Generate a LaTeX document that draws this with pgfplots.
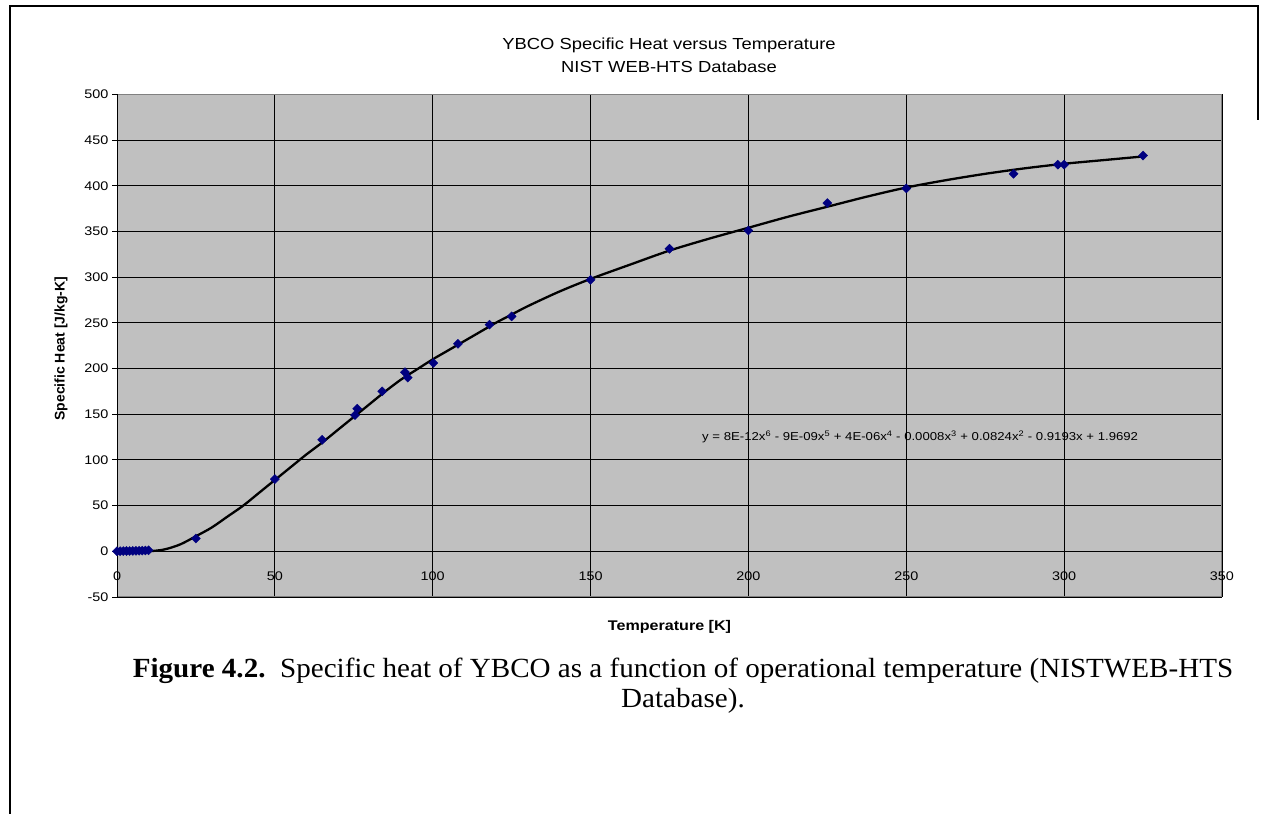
\documentclass[border=0pt]{standalone}
\usepackage{pgfplots}
\pgfplotsset{compat=1.18}
\usepackage{fontspec}
\setmainfont{Liberation Sans}[FakeStretch=1.15]
\newfontfamily\plainsans{Liberation Sans}
\newfontfamily\capfont{Liberation Serif}[FakeStretch=1.05]
\definecolor{plotbg}{RGB}{192,192,192}
\definecolor{bordergray}{RGB}{128,128,128}
\definecolor{navy}{RGB}{0,0,128}
\begin{document}
\begin{tikzpicture}[x=1pt,y=1pt]
\useasboundingbox (0,0) rectangle (1267,814);
% frame
\draw[line width=2pt] (10,0) -- (10,808) -- (1258,808) -- (1258,694);
% title
\node[font=\fontsize{16}{18}\selectfont] at (669,769) {YBCO Specific Heat versus Temperature};
\node[font=\fontsize{16}{18}\selectfont] at (669,747) {NIST WEB-HTS Database};
\begin{axis}[
  at={(117pt,217pt)}, anchor=south west,
  scale only axis, width=1105pt, height=502.7pt,
  xmin=0, xmax=350, ymin=-50, ymax=500,
  xtick={0,50,...,350}, ytick={-50,0,...,500},
  /pgf/number format/assume math mode=true,
  tick label style={font=\fontsize{12.5}{14}\selectfont},
  axis background/.style={fill=plotbg},
  axis line style={bordergray, line width=1pt},
  grid=major, major grid style={black, line width=0.8pt},
  tick align=outside, major tick length=5pt,
  xtick style={draw=none}, ytick style={black, line width=0.8pt},
  ytick pos=left, xtick pos=bottom,
  xticklabel style={yshift=34pt},
  xlabel={\textbf{Temperature [K]}},
  ylabel={\textbf{Specific Heat [J/kg-K]}},
  xlabel style={font=\fontsize{14}{16}\selectfont, at={(axis description cs:0.5,-0.0597)}, anchor=center},
  ylabel style={font=\plainsans\fontsize{14}{16}\selectfont, at={(axis description cs:-0.0507,0.494)}, anchor=center},
  clip=false,
]
\draw[black, line width=1pt] (axis cs:0,-50) -- (axis cs:0,500);
\draw[black, line width=1pt] (axis cs:0,0) -- (axis cs:350,0);
% trend line
\addplot[black, line width=2.3pt, smooth, no marks] coordinates {
(0,1.5) (5,-0.5) (10,0) (15,2) (20,7.5) (25,16.5) (30,26) (35,38) (40,50)
(45,64) (50,78) (55,92) (60,106) (65,119) (70,133) (75,147) (80,161)
(85,175) (90,188) (95,199) (100,210) (105,220) (110,230) (115,240)
(120,250) (125,259) (130,268) (140,284) (150,298) (162,313) (175,329)
(187.5,342) (200,354) (212.5,366) (225,377) (237.5,388) (250,398)
(262.5,406) (275,413) (287.5,419) (300,424) (312.5,428) (325,432)
};
% data points
\addplot[only marks, mark=square*, mark size=3.2pt, mark options={rotate=45}, color=navy] coordinates {
(0,0) (1,0.1) (2,0.2) (3,0.3) (4,0.3) (5,0.4) (6,0.5) (7,0.6) (8,0.7) (9,0.9) (10,1.1)
(25,14) (50,79) (65,122) (75.4,149) (76.1,156) (84,175) (91.2,196) (92.1,190)
(100.2,206) (108,227) (118,248) (125,257) (150,297) (175,331) (200,351)
(225,381) (250,397) (284,413) (298,423) (300,423) (325,433)
};
\node[font=\fontsize{11.45}{13}\selectfont] at (axis cs:254.4,125)
{y = 8E-12x\textsuperscript{6} - 9E-09x\textsuperscript{5} + 4E-06x\textsuperscript{4} - 0.0008x\textsuperscript{3} + 0.0824x\textsuperscript{2} - 0.9193x + 1.9692};
\end{axis}
% caption
\node[font=\capfont\fontsize{27.7}{30}\selectfont] at (683,143) {\textbf{Figure 4.2.}\ \ Specific heat of YBCO as a function of operational temperature (NISTWEB-HTS};
\node[font=\capfont\fontsize{27.7}{30}\selectfont] at (683,113) {Database).};
\end{tikzpicture}
\end{document}
